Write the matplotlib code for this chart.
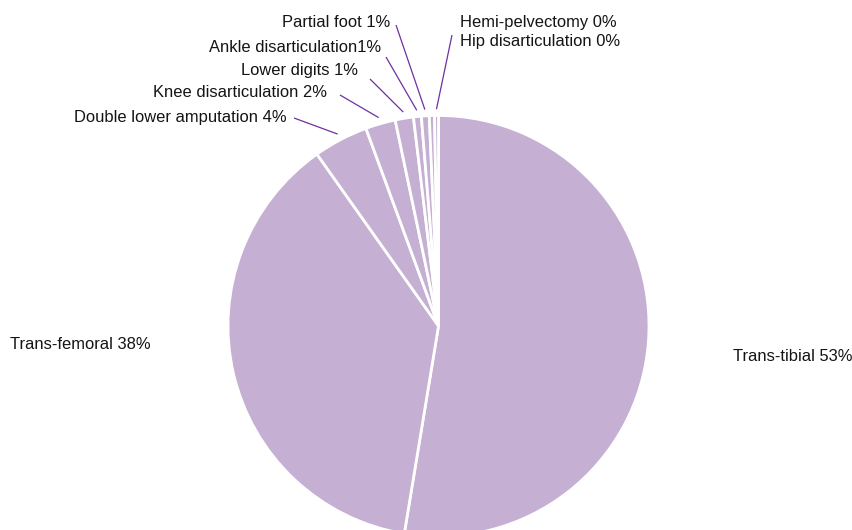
import numpy as np
import matplotlib
matplotlib.use("Agg")
import matplotlib.pyplot as plt

# Share of amputations by level (percent)
levels = [
    "Trans-tibial",
    "Trans-femoral",
    "Double lower amputation",
    "Knee disarticulation",
    "Lower digits",
    "Ankle disarticulation",
    "Partial foot",
    "Hemi-pelvectomy",
    "Hip disarticulation",
]
shares = [52.6, 37.6, 4.2, 2.3, 1.4, 0.6, 0.6, 0.4, 0.3]
separators = [" ", " ", " ", " ", " ", "", " ", " ", " "]

FILL = "#C5B0D3"
LEADER = "#7030A0"

W, H = 852, 530
CX, CY, R = 438.5, 326.0, 210.5   # pie centre and radius in pixels

fig = plt.figure(figsize=(W / 100, H / 100), dpi=100)
ax = fig.add_axes([0, 0, 1, 1])

wedges, _ = ax.pie(
    shares, startangle=90, counterclock=False, radius=1.0,
    colors=[FILL] * len(shares),
    wedgeprops=dict(edgecolor="white", linewidth=2.0),
    normalize=True,
)
ax.set_xlim(-CX / R, (W - CX) / R)
ax.set_ylim(-(H - CY) / R, CY / R)
ax.set_aspect("auto")
ax.axis("off")


def px(x, y):
    return (x - CX) / R, (CY - y) / R


# label layout: (text x, baseline y, alignment, leader start or None)
layout = [
    (733, 361, "left", None),
    (151, 349, "right", None),
    (287, 122, "right", (294, 118)),
    (327, 97, "right", (340, 95)),
    (358, 75, "right", (370, 79)),
    (381, 52.5, "right", (386, 57)),
    (390, 27, "right", (396, 25)),
    (460, 27.5, "left", None),
    (460, 46, "left", (452, 35)),
]

font = dict(family=["Liberation Sans", "DejaVu Sans"], size=11.9, color="#141414")

for name, val, sep, w, (tx, ty, ha, lead) in zip(levels, shares, separators,
                                                 wedges, layout):
    label = f"{name}{sep}{val:.0f}%"
    x, y = px(tx, ty)
    ax.text(x, y, label, ha=ha, va="baseline", **font)
    if lead is not None:
        mid = np.deg2rad((w.theta1 + w.theta2) / 2)
        ex, ey = 1.03 * np.cos(mid), 1.03 * np.sin(mid)
        sx, sy = px(*lead)
        ax.plot([sx, ex], [sy, ey], color=LEADER, lw=0.9, solid_capstyle="butt")

fig.savefig("out.png", dpi=100)
